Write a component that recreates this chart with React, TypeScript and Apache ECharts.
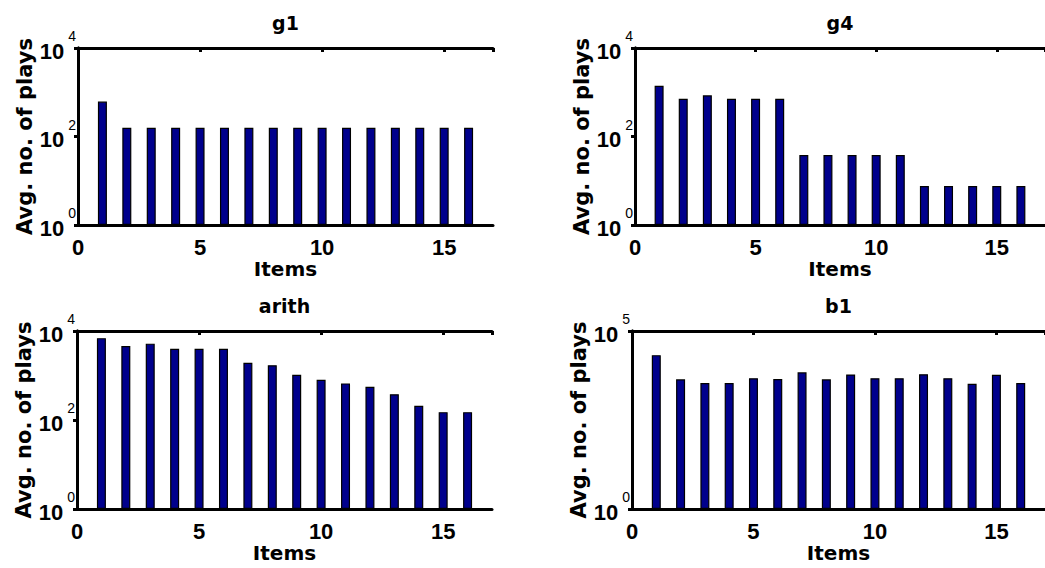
import React, { useEffect, useRef } from "react";
import * as echarts from "echarts";

const items = [1, 2, 3, 4, 5, 6, 7, 8, 9, 10, 11, 12, 13, 14, 15, 16];
const g1 = [615, 158, 158, 158, 158, 158, 158, 158, 158, 158, 158, 158, 158, 158, 158, 158];
const g4 = [1400, 710, 850, 710, 710, 710, 38, 38, 38, 38, 38, 7.6, 7.6, 7.6, 7.6, 7.6];
const arith = [6900, 4600, 5200, 4000, 4000, 4000, 1930, 1700, 1040, 800, 665, 560, 380, 208, 150, 150];
const b1 = [21000, 4400, 3450, 3450, 4700, 4500, 6900, 4400, 6000, 4700, 4700, 6100, 4700, 3300, 5900, 3450];

const titles = ["g1", "g4", "arith", "b1"];
const seriesData = [g1, g4, arith, b1];
const yMaxExp = [4, 4, 4, 5];
const yLabelExps = [[0, 2, 4], [0, 2, 4], [0, 2, 4], [0, 5]];
const xTicks = [0, 5, 10, 15];
const xLabel = "Items";
const yLabel = "Avg. no. of plays";

const grids = [
  { left: 78, top: 48, width: 415, height: 177 },
  { left: 635, top: 48, width: 415, height: 177 },
  { left: 77, top: 331, width: 415, height: 178 },
  { left: 632, top: 331, width: 415, height: 178 },
];
const yNameGap = [42, 42, 43, 39];

const NUMFONT = "Liberation Sans, Arial, Helvetica, sans-serif";
const TXTFONT = "DejaVu Sans, Liberation Sans, sans-serif";

export default function App() {
  const ref = useRef<HTMLDivElement>(null);
  useEffect(() => {
    if (!ref.current) return;
    const chart = echarts.init(ref.current, null, { renderer: "svg" });
    const xAxis: any[] = [];
    const yAxis: any[] = [];
    const series: any[] = [];
    grids.forEach((g, i) => {
      xAxis.push({
        type: "value",
        gridIndex: i,
        min: 0,
        max: 17,
        interval: 5,
        position: "bottom",
        z: 5,
        axisLine: { show: true, lineStyle: { color: "#000", width: 3 } },
        axisTick: { show: false },
        splitLine: { show: false },
        axisLabel: {
          showMaxLabel: false,
          margin: 11,
          color: "#000",
          fontSize: 22,
          fontWeight: "bold",
          fontFamily: NUMFONT,
          formatter: (v: number) => (xTicks.includes(v) ? String(v) : ""),
        },
        name: xLabel,
        nameLocation: "middle",
        nameGap: 34,
        nameTextStyle: { color: "#000", fontSize: 20, fontWeight: "bold", fontFamily: TXTFONT },
      });
      xAxis.push({
        type: "value",
        gridIndex: i,
        min: 0,
        max: 17,
        interval: 5,
        position: "top",
        z: 5,
        axisLine: { show: true, lineStyle: { color: "#000", width: 3 } },
        axisTick: { show: true, inside: true, length: 4, lineStyle: { color: "#000", width: 3 } },
        splitLine: { show: false },
        axisLabel: { show: false },
        name: titles[i],
        nameLocation: "middle",
        nameGap: 16,
        nameTextStyle: { color: "#000", fontSize: 19, fontWeight: "bold", fontFamily: TXTFONT },
      });
      const exps = yLabelExps[i];
      yAxis.push({
        type: "log",
        logBase: 10,
        gridIndex: i,
        min: 1,
        max: Math.pow(10, yMaxExp[i]),
        position: "left",
        z: 5,
        axisLine: { show: true, lineStyle: { color: "#000", width: 3 } },
        axisTick: { show: false },
        splitLine: { show: false },
        axisLabel: {
          margin: 2,
          color: "#000",
          fontFamily: NUMFONT,
          formatter: (v: number) => {
            const e = Math.round(Math.log10(v));
            return exps.includes(e) ? `{b|10}{s|${e}}` : "";
          },
          rich: {
            b: { fontSize: 22, fontWeight: "bold", fontFamily: NUMFONT, color: "#000", verticalAlign: "bottom", padding: [0, 0, 5, 0] },
            s: { fontSize: 14, fontFamily: NUMFONT, color: "#000", verticalAlign: "top", padding: [0, 0, 24, 4] },
          },
        },
        name: yLabel,
        nameLocation: "middle",
        nameGap: yNameGap[i],
        nameTextStyle: { color: "#000", fontSize: 21, fontWeight: "bold", fontFamily: TXTFONT },
      });
      yAxis.push({
        type: "value",
        gridIndex: i,
        min: 0,
        max: yMaxExp[i],
        interval: i === 3 ? 5 : 2,
        position: "right",
        z: 5,
        axisLine: { show: true, lineStyle: { color: "#000", width: 3 } },
        axisTick: { show: true, inside: true, length: 4, lineStyle: { color: "#000", width: 3 } },
        splitLine: { show: false },
        axisLabel: { show: false },
      });
      series.push({
        type: "bar",
        xAxisIndex: i * 2,
        yAxisIndex: i * 2,
        barWidth: 9,
        data: items.map((x, k) => [x, seriesData[i][k]]),
        itemStyle: { color: "#00008c", borderColor: "#000", borderWidth: 1.2 },
      });
    });
    chart.setOption({
      animation: false,
      backgroundColor: "#fff",
      grid: grids.map((g) => ({ ...g, containLabel: false })),
      xAxis,
      yAxis,
      series,
    });
    return () => chart.dispose();
  }, []);
  return (
    <div
      ref={ref}
      style={{ position: "absolute", left: 0, top: 0, width: 1045, height: 568, overflow: "hidden" }}
    />
  );
}
